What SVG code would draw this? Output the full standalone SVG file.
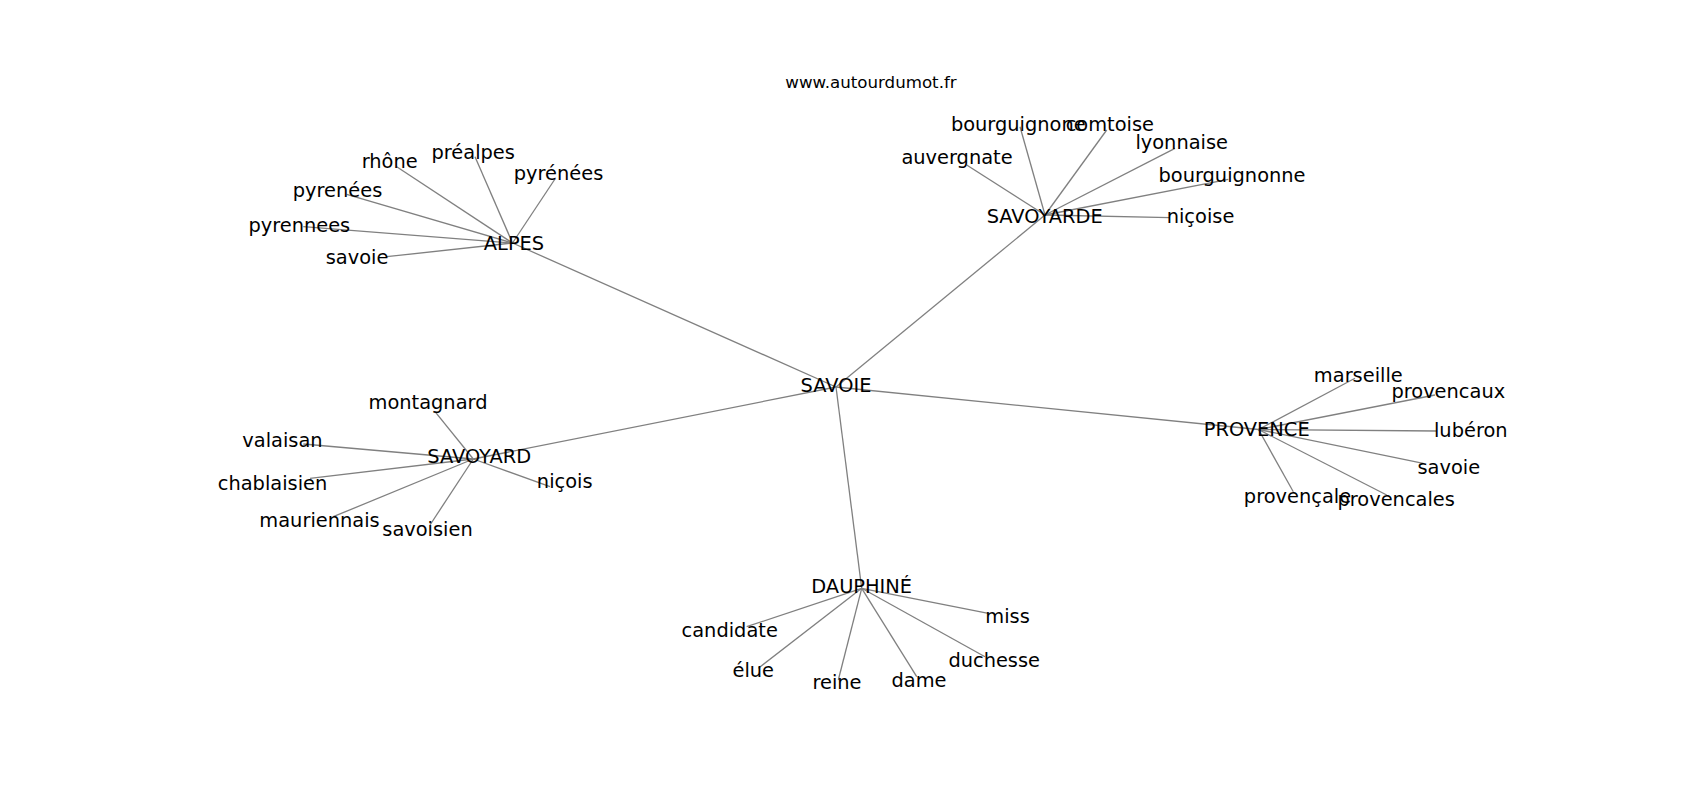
<svg xmlns="http://www.w3.org/2000/svg" width="1700" height="800" viewBox="0 0 1700 800">
<style>
.e{stroke:#808080;stroke-width:1.3;fill:none}
.t{font-family:"DejaVu Sans",sans-serif;font-size:19.4px;fill:#000;text-anchor:middle}
.title{font-family:"DejaVu Sans",sans-serif;font-size:16.67px;fill:#000;text-anchor:middle}
</style>
<rect width="1700" height="800" fill="#fff"/>
<text class="title" x="871" y="88">www.autourdumot.fr</text>
<g id="edges">
<line class="e" x1="836" y1="387" x2="512.5" y2="243"/>
<line class="e" x1="836" y1="387" x2="1045" y2="215"/>
<line class="e" x1="836" y1="387" x2="473.3" y2="459"/>
<line class="e" x1="836" y1="387" x2="1258.5" y2="429.5"/>
<line class="e" x1="836" y1="387" x2="861.7" y2="588.3"/>
<line class="e" x1="512.5" y1="243" x2="396.7" y2="166.7"/>
<line class="e" x1="512.5" y1="243" x2="475" y2="156.7"/>
<line class="e" x1="512.5" y1="243" x2="555" y2="179"/>
<line class="e" x1="512.5" y1="243" x2="346.7" y2="194.3"/>
<line class="e" x1="512.5" y1="243" x2="303.3" y2="226.7"/>
<line class="e" x1="512.5" y1="243" x2="386.7" y2="256.7"/>
<line class="e" x1="1045" y1="215" x2="966.7" y2="165"/>
<line class="e" x1="1045" y1="215" x2="1020" y2="126.7"/>
<line class="e" x1="1045" y1="215" x2="1106.7" y2="130"/>
<line class="e" x1="1045" y1="215" x2="1175" y2="148.3"/>
<line class="e" x1="1045" y1="215" x2="1228.3" y2="179.3"/>
<line class="e" x1="1045" y1="215" x2="1170" y2="217.7"/>
<line class="e" x1="473.3" y1="459" x2="435" y2="411.7"/>
<line class="e" x1="473.3" y1="459" x2="303.3" y2="444"/>
<line class="e" x1="473.3" y1="459" x2="310" y2="478.3"/>
<line class="e" x1="473.3" y1="459" x2="333.3" y2="516.7"/>
<line class="e" x1="473.3" y1="459" x2="430" y2="525"/>
<line class="e" x1="473.3" y1="459" x2="550" y2="486.7"/>
<line class="e" x1="1258.5" y1="429.5" x2="1355" y2="378.3"/>
<line class="e" x1="1258.5" y1="429.5" x2="1435" y2="395"/>
<line class="e" x1="1258.5" y1="429.5" x2="1436.7" y2="431"/>
<line class="e" x1="1258.5" y1="429.5" x2="1423.3" y2="463.3"/>
<line class="e" x1="1258.5" y1="429.5" x2="1293.3" y2="491.7"/>
<line class="e" x1="1258.5" y1="429.5" x2="1386.7" y2="495"/>
<line class="e" x1="861.7" y1="588.3" x2="746.7" y2="626.7"/>
<line class="e" x1="861.7" y1="588.3" x2="758.3" y2="668.3"/>
<line class="e" x1="861.7" y1="588.3" x2="838.3" y2="680"/>
<line class="e" x1="861.7" y1="588.3" x2="916.7" y2="676.7"/>
<line class="e" x1="861.7" y1="588.3" x2="985" y2="656.7"/>
<line class="e" x1="861.7" y1="588.3" x2="988.3" y2="613.3"/>
</g>
<g id="n-savoie"><text class="t" x="836" y="392">SAVOIE</text></g>
<g id="n-alpes"><text class="t" x="514" y="250">ALPES</text></g>
<g id="n-savoyarde"><text class="t" x="1044.7" y="223.3">SAVOYARDE</text></g>
<g id="n-savoyard"><text class="t" x="479.2" y="463">SAVOYARD</text></g>
<g id="n-provence"><text class="t" x="1256.7" y="435.7">PROVENCE</text></g>
<g id="n-dauphine"><text class="t" x="861.7" y="592.7">DAUPHINÉ</text></g>
<g id="n-rhone"><text class="t" x="389.7" y="168.3">rhône</text></g>
<g id="n-prealpes"><text class="t" x="473.2" y="159">préalpes</text></g>
<g id="n-pyrenees1"><text class="t" x="558.5" y="180">pyrénées</text></g>
<g id="n-pyrenees2"><text class="t" x="337.5" y="196.7">pyrenées</text></g>
<g id="n-pyrennees"><text class="t" x="299.3" y="231.7">pyrennees</text></g>
<g id="n-savoie-a"><text class="t" x="357" y="264">savoie</text></g>
<g id="n-auvergnate"><text class="t" x="957" y="164">auvergnate</text></g>
<g id="n-bourguignone"><text class="t" x="1018.3" y="130.5">bourguignone</text></g>
<g id="n-comtoise"><text class="t" x="1109.8" y="130.5">comtoise</text></g>
<g id="n-lyonnaise"><text class="t" x="1181.7" y="149.3">lyonnaise</text></g>
<g id="n-bourguignonne"><text class="t" x="1232" y="181.7">bourguignonne</text></g>
<g id="n-nicoise"><text class="t" x="1200.5" y="222.7">niçoise</text></g>
<g id="n-montagnard"><text class="t" x="428" y="409.3">montagnard</text></g>
<g id="n-valaisan"><text class="t" x="282.5" y="446.7">valaisan</text></g>
<g id="n-chablaisien"><text class="t" x="272.5" y="490">chablaisien</text></g>
<g id="n-mauriennais"><text class="t" x="319.5" y="526.7">mauriennais</text></g>
<g id="n-savoisien"><text class="t" x="427.5" y="536">savoisien</text></g>
<g id="n-nicois"><text class="t" x="564.7" y="488.3">niçois</text></g>
<g id="n-marseille"><text class="t" x="1358.3" y="381.7">marseille</text></g>
<g id="n-provencaux"><text class="t" x="1448.3" y="398.3">provencaux</text></g>
<g id="n-luberon"><text class="t" x="1470.8" y="436.7">lubéron</text></g>
<g id="n-savoie-p"><text class="t" x="1448.8" y="474">savoie</text></g>
<g id="n-provencale"><text class="t" x="1297.5" y="503.3">provençale</text></g>
<g id="n-provencales"><text class="t" x="1396.2" y="505.7">provencales</text></g>
<g id="n-candidate"><text class="t" x="729.7" y="636.7">candidate</text></g>
<g id="n-elue"><text class="t" x="753.3" y="677.3">élue</text></g>
<g id="n-reine"><text class="t" x="837" y="689.3">reine</text></g>
<g id="n-dame"><text class="t" x="919" y="686.7">dame</text></g>
<g id="n-duchesse"><text class="t" x="994.2" y="667.3">duchesse</text></g>
<g id="n-miss"><text class="t" x="1007.5" y="622.7">miss</text></g>
</svg>
